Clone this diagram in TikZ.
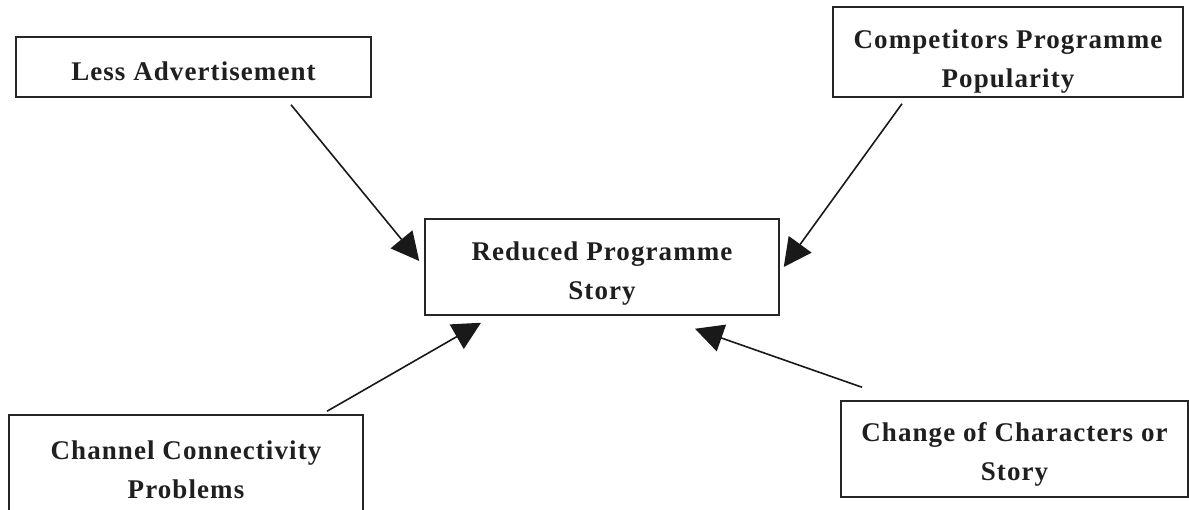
\documentclass[tikz,border=0pt]{standalone}
\usepackage{fontspec}
\setmainfont{Liberation Serif}[LetterSpace=4]
\usetikzlibrary{arrows.meta}
\begin{document}
\begin{tikzpicture}[x=1pt,y=-1pt,
  frame/.style={draw=black!85, line width=1.5pt, rectangle, inner sep=0pt},
  label text/.style={align=center, inner sep=0pt,
    font=\fontsize{27}{39}\selectfont\bfseries, text=black!88},
  arr/.style={draw=black!90, line width=1.6pt,
    -{Triangle[length=28pt,width=28pt]}}]
  \useasboundingbox (0,0) rectangle (1189,510);
  \begin{scope}
    \clip (0,0) rectangle (1189,510);
    % box frames
    \node[frame, minimum width=355pt, minimum height=60pt] (less) at (193.5,67) {};
    \node[frame, minimum width=350pt, minimum height=90pt] (comp) at (1008,52) {};
    \node[frame, minimum width=354pt, minimum height=96pt] (red) at (602,267) {};
    \node[frame, minimum width=354pt, minimum height=112pt] (chan) at (186,471) {};
    \node[frame, minimum width=347pt, minimum height=96pt] (chg) at (1014.5,449) {};
  \end{scope}
  % box texts
  \node[label text] (lessT) at ([yshift=-4pt]less.center) {Less Advertisement};
  \node[label text] (compT) at ([yshift=-10pt]comp.center) {Competitors Programme\\Popularity};
  \node[label text] (redT) at ([yshift=-7pt]red.center) {Reduced Programme\\Story};
  \node[label text] (chanT) at ([yshift=1pt]chan.center) {Channel Connectivity\\Problems};
  \node[label text] (chgT) at ([yshift=-5pt]chg.center) {Change of Characters or\\Story};
  % arrow end points
  \coordinate (s1) at ([xshift=97.5pt,yshift=-7pt]less.south);
  \coordinate (t1) at ([xshift=-5pt,yshift=6pt]red.west);
  \coordinate (s2) at ([xshift=-106pt,yshift=-6pt]comp.south);
  \coordinate (t2) at ([xshift=4pt]red.east);
  \coordinate (s3) at ([xshift=141pt,yshift=3pt]chan.north);
  \coordinate (t3) at ([xshift=-121pt,yshift=-7pt]red.south);
  \coordinate (s4) at ([xshift=-152.5pt,yshift=13pt]chg.north);
  \coordinate (t4) at ([xshift=93pt,yshift=-13pt]red.south);
  \draw[arr] (s1) -- (t1);
  \draw[arr] (s2) -- (t2);
  \draw[arr] (s3) -- (t3);
  \draw[arr] (s4) -- (t4);
\end{tikzpicture}
\end{document}
